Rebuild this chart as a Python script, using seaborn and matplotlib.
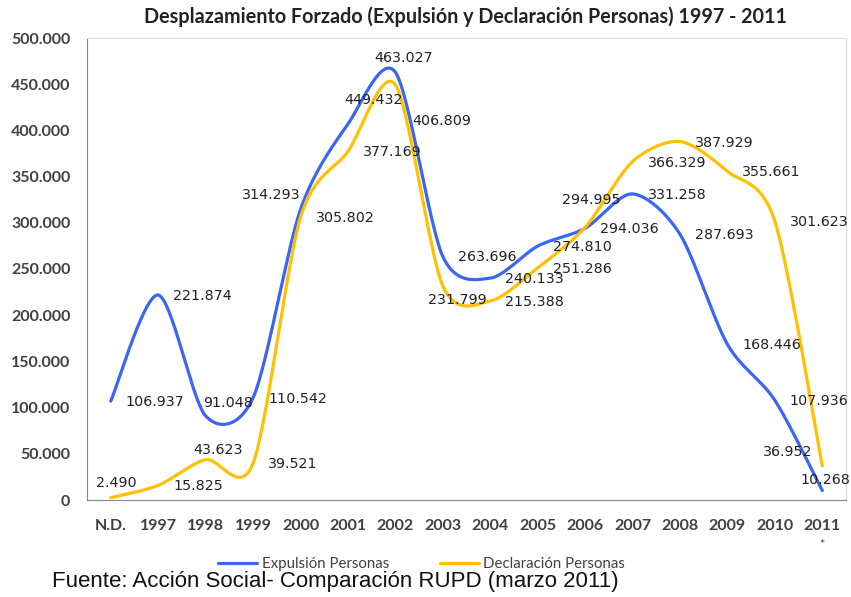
import numpy as np
import pandas as pd
import seaborn as sns
import matplotlib.pyplot as plt
from matplotlib.ticker import FuncFormatter

sns.set_style("white")
plt.rcParams['font.family'] = ['Lato', 'DejaVu Sans']

years = ["N.D.", "1997", "1998", "1999", "2000", "2001", "2002", "2003",
         "2004", "2005", "2006", "2007", "2008", "2009", "2010", "2011"]
expulsion = [106937, 221874, 91048, 110542, 314293, 406809, 463027, 263696,
             240133, 274810, 294036, 331258, 287693, 168446, 107936, 10268]
declaracion = [2490, 15825, 43623, 39521, 305802, 377169, 449432, 231799,
               215388, 251286, 294995, 366329, 387929, 355661, 301623, 36952]

series_names = ["Expulsión Personas", "Declaración Personas"]
colors = {"Expulsión Personas": "#3a66f2", "Declaración Personas": "#ffc000"}

# label placement exceptions (index -> (ha, dx px, dy px)); default is right of point
label_moves = {
    "Expulsión Personas": {2: ("left", -2, 13), 4: ("right", 0, 15), 5: ("left", 64, 3),
                           6: ("center", 8, 14), 15: ("left", -22, 11)},
    "Declaración Personas": {0: ("center", 6, 15), 2: ("center", 12, 10), 6: ("center", -22, -15),
                             7: ("center", 15, -14), 10: ("center", 6, 27), 15: ("right", -10, 14)},
}


def smooth(values, steps=30, k=1 / 7):
    # excel-like smoothed line (cardinal bezier between points)
    pts = np.column_stack([np.arange(len(values)), np.asarray(values, dtype=float)])
    padded = np.vstack([pts[0], pts, pts[-1]])
    out = []
    t = np.linspace(0, 1, steps)[:, None]
    for i in range(len(pts) - 1):
        p0, p3 = padded[i + 1], padded[i + 2]
        p1 = p0 + (padded[i + 2] - padded[i]) * k
        p2 = p3 - (padded[i + 3] - padded[i + 1]) * k
        seg = (1 - t) ** 3 * p0 + 3 * (1 - t) ** 2 * t * p1 + 3 * (1 - t) * t ** 2 * p2 + t ** 3 * p3
        out.append(seg if i == 0 else seg[1:])
    return np.vstack(out)


def fmt(v):
    return f"{int(v):,}".replace(",", ".")


frames = []
for name, vals in zip(series_names, [expulsion, declaracion]):
    s = smooth(vals)
    frames.append(pd.DataFrame({"x": s[:, 0], "y": s[:, 1], "serie": name}))
df = pd.concat(frames, ignore_index=True)

fig = plt.figure(figsize=(8.51, 5.97), dpi=100)
ax = fig.add_axes([87 / 851, 97 / 597, 759 / 851, 462 / 597])
sns.lineplot(data=df, x="x", y="y", hue="serie", palette=colors, sort=False,
             estimator=None, linewidth=2.3, ax=ax)

for name, vals in zip(series_names, [expulsion, declaracion]):
    for i, v in enumerate(vals):
        ha, dx, dy = label_moves[name].get(i, ("left", 15, -1))
        ax.annotate(fmt(v), (i, v), xytext=(dx, dy), textcoords="offset pixels",
                    ha=ha, va="center", fontsize=10.3, color="#222222",
                    family="DejaVu Sans")

ax.set_xlim(-0.5, len(years) - 0.5)
ax.set_ylim(0, 500000)
ax.set_yticks(np.arange(0, 500001, 50000))
ax.yaxis.set_major_formatter(FuncFormatter(lambda v, p: fmt(v)))
ax.set_xticks(np.arange(-0.5, len(years), 1))
ax.set_xticklabels([])
ax.set_xticks(np.arange(len(years)), minor=True)
ax.set_xticklabels(years, minor=True)
ax.tick_params(axis="x", which="major", length=5, color="#868686", direction="out")
ax.tick_params(axis="x", which="minor", length=0, pad=14, labelsize=11.5, labelcolor="#404040")
ax.tick_params(axis="y", length=6, color="#868686", direction="out", labelsize=11.5,
               labelcolor="#404040", pad=6)
for lab in ax.get_xticklabels(minor=True) + ax.get_yticklabels():
    lab.set_fontweight("bold")
ax.set_xlabel("")
ax.set_ylabel("")
for side in ["left", "bottom"]:
    ax.spines[side].set_color("#868686")
for side in ["top", "right"]:
    ax.spines[side].set_color("#d9d9d9")

ax.text(15, -0.097, "*", transform=ax.get_xaxis_transform(), ha="center", va="center",
        fontsize=9, color="#404040")

sns.move_legend(ax, loc="center", bbox_to_anchor=(0.441, -0.138), ncol=2, frameon=False,
                title=None, fontsize=10.8, handlelength=2.6, handletextpad=0.3, columnspacing=3.4)
for line in ax.get_legend().get_lines():
    line.set_linewidth(2.3)
for t in ax.get_legend().get_texts():
    t.set_color("#404040")

fig.text(466 / 851, 1 - 17 / 597, "Desplazamiento Forzado (Expulsión y Declaración Personas) 1997 - 2011",
         ha="center", va="center", fontsize=14.2, fontweight="bold", color="#222222")
fig.text(52 / 851, 1 - 581 / 597, "Fuente: Acción Social- Comparación RUPD (marzo 2011)",
         ha="left", va="center", fontsize=16, family="Liberation Sans", color="#111111")

plt.savefig("out.png", dpi=100)
